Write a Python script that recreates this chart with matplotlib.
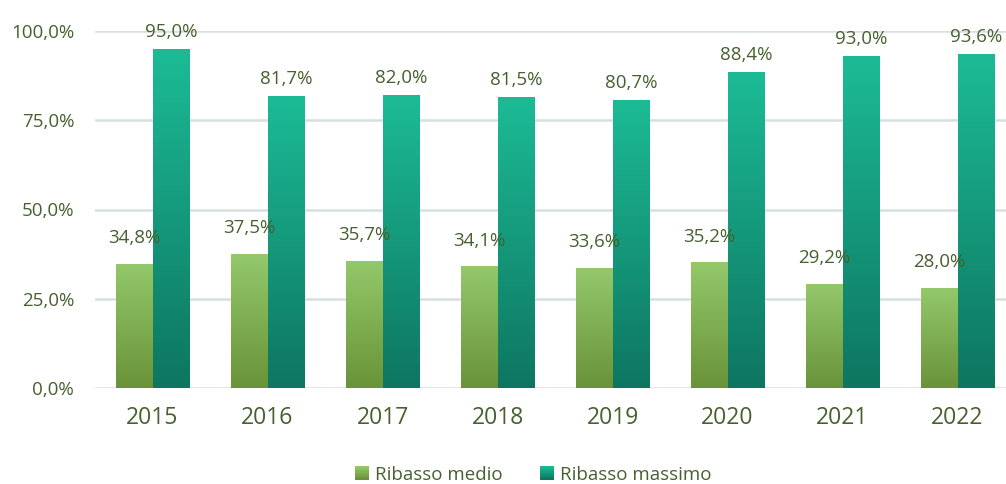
import numpy as np
import matplotlib.pyplot as plt
from matplotlib.colors import LinearSegmentedColormap
from matplotlib.patches import Patch
from matplotlib.legend_handler import HandlerPatch

years = ["2015", "2016", "2017", "2018", "2019", "2020", "2021", "2022"]
ribasso_medio = [34.8, 37.5, 35.7, 34.1, 33.6, 35.2, 29.2, 28.0]
ribasso_massimo = [95.0, 81.7, 82.0, 81.5, 80.7, 88.4, 93.0, 93.6]
yticks = [0, 25, 50, 75, 100]

text_col = "#46612F"
green_cmap = LinearSegmentedColormap.from_list("g", ["#6A9339", "#93C86B"])
teal_cmap = LinearSegmentedColormap.from_list("t", ["#0E7660", "#1CBB96"])

plt.rcParams['font.family'] = ['Open Sans', 'DejaVu Sans']

fig = plt.figure(figsize=(10.06, 4.84), dpi=100)
ax = fig.add_axes([95 / 1006, 1 - 388 / 484, 920 / 1006, 357 / 484])

x = np.arange(len(years))
w = 0.32
grad = np.linspace(0, 1, 256).reshape(-1, 1)


def grad_bar(xc, h, cmap):
    bar = ax.bar(xc, h, w, color="none", edgecolor="none", zorder=3)[0]
    im = ax.imshow(grad, cmap=cmap, aspect="auto", origin="lower",
                   extent=[xc - w / 2, xc + w / 2, 0, h], zorder=3)
    im.set_clip_path(bar)


for i in range(len(years)):
    grad_bar(x[i] - w / 2, ribasso_medio[i], green_cmap)
    grad_bar(x[i] + w / 2, ribasso_massimo[i], teal_cmap)
    ax.annotate(f"{ribasso_medio[i]:.1f}%".replace(".", ","),
                (x[i] - w / 2, ribasso_medio[i]), xytext=(0, 12),
                textcoords="offset points", ha="center", va="bottom",
                fontsize=13.5, color=text_col, zorder=4)
    ax.annotate(f"{ribasso_massimo[i]:.1f}%".replace(".", ","),
                (x[i] + w / 2, ribasso_massimo[i]), xytext=(0, 6),
                textcoords="offset points", ha="center", va="bottom",
                fontsize=13.5, color=text_col, zorder=4)

ax.set_xlim(-0.5, len(years) - 0.5)
ax.set_ylim(0, 100)
ax.set_yticks(yticks)
ax.set_yticklabels([f"{v:.1f}%".replace(".", ",") for v in yticks],
                   fontsize=13.5, color=text_col)
ax.set_xticks(x)
ax.set_xticklabels(years, fontsize=16.5, color=text_col)
ax.tick_params(length=0)
ax.tick_params(axis="x", pad=13)
ax.tick_params(axis="y", pad=15)
ax.grid(axis="y", color="#D6E0DE", lw=1.8, zorder=0)
ax.set_axisbelow(True)
for s in ax.spines.values():
    s.set_visible(False)


class GradHandler(HandlerPatch):
    def __init__(self, cmap):
        super().__init__()
        self.cmap = cmap

    def create_artists(self, legend, orig, xd, yd, width, height, fontsize, trans):
        arts = []
        n = 10
        for k in range(n):
            arts.append(plt.Rectangle((xd, yd + height * k / n), width, height / n + 0.3,
                                      facecolor=self.cmap(k / (n - 1)), edgecolor="none",
                                      transform=trans))
        return arts


h1 = Patch(label="Ribasso medio")
h2 = Patch(label="Ribasso massimo")
fig.legend([h1, h2], ["Ribasso medio", "Ribasso massimo"],
           handler_map={h1: GradHandler(green_cmap), h2: GradHandler(teal_cmap)},
           loc="center", bbox_to_anchor=(0.53, 1 - 475 / 484), ncol=2, frameon=False,
           fontsize=13.5, labelcolor=text_col, handlelength=0.75, handleheight=0.75,
           handletextpad=0.3, columnspacing=2.0)

fig.savefig("out.png", dpi=100)
